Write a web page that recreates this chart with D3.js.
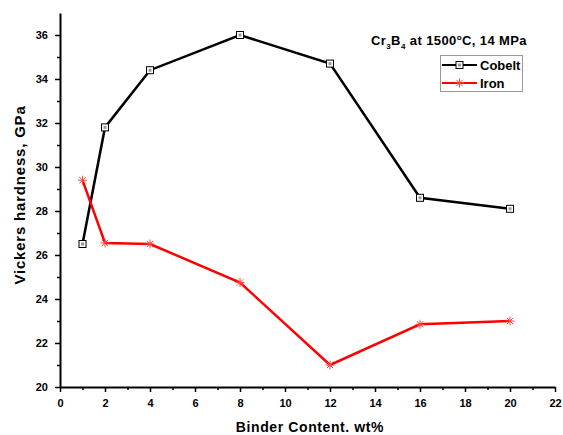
<!DOCTYPE html>
<html>
<head>
<meta charset="utf-8">
<script src="https://cdn.jsdelivr.net/npm/d3@7"></script>
<style>
  body { margin: 0; background: #fff; }
  svg text { font-family: "Liberation Sans", Arial, sans-serif; font-weight: bold; fill: #000; }
</style>
</head>
<body>
<div id="chart"></div>
<script>
const binder = [1, 2, 4, 8, 12, 16, 20];
const cobelt = [26.5, 31.8, 34.4, 36.0, 34.7, 28.6, 28.1];
const iron = [29.4, 26.55, 26.5, 24.75, 21.0, 22.85, 23.0];
const xTicks = d3.range(0, 23, 2);
const yTicks = d3.range(20, 37, 2);

const width = 563;
const height = 435;
const margin = {top: 13, right: 8, bottom: 48, left: 60};

let svg = d3.select('#chart').append('svg')
  .attr('width', width)
  .attr('height', height)

let scaleX = d3.scaleLinear()
  .domain([0, 22])
  .range([margin.left, 555])

let scaleY = d3.scaleLinear()
  .domain([20, 37])
  .range([387, margin.top])

// minor ticks
let xAxisMinor = d3.axisBottom(scaleX).tickValues(d3.range(1, 22, 2)).tickSize(3).tickFormat('');
let yAxisMinor = d3.axisLeft(scaleY).tickValues(d3.range(21, 37, 2)).tickSize(3).tickFormat('');

svg.append('g')
  .attr('transform', `translate(0, ${scaleY(20)})`)
  .call(xAxisMinor)
  .call(g => g.select('.domain').remove())
  .selectAll('line').attr('stroke-width', 1.5)

svg.append('g')
  .attr('transform', `translate(${scaleX(0)}, 0)`)
  .call(yAxisMinor)
  .call(g => g.select('.domain').remove())
  .selectAll('line').attr('stroke-width', 1.5)

let xAxis = d3.axisBottom(scaleX).tickValues(xTicks).tickSize(5).tickSizeOuter(0).tickPadding(7);
let yAxis = d3.axisLeft(scaleY).tickValues(yTicks).tickSize(5).tickSizeOuter(0).tickPadding(7);

let gx = svg.append('g')
  .attr('transform', `translate(0, ${scaleY(20)})`)
  .call(xAxis)
gx.select('.domain').attr('stroke-width', 2)
gx.selectAll('line').attr('stroke-width', 1.5)
gx.selectAll('text').style('font-size', '11px').style('font-family', '"Liberation Sans", Arial, sans-serif').style('font-weight', 'bold')

let gy = svg.append('g')
  .attr('transform', `translate(${scaleX(0)}, 0)`)
  .call(yAxis)
gy.select('.domain').attr('stroke-width', 2)
gy.selectAll('line').attr('stroke-width', 1.5)
gy.selectAll('text').style('font-size', '11px').style('font-family', '"Liberation Sans", Arial, sans-serif').style('font-weight', 'bold')

// axis titles
svg.append('text')
  .attr('x', 310)
  .attr('y', 432)
  .attr('text-anchor', 'middle')
  .style('font-size', '14px')
  .style('letter-spacing', '0.6px')
  .text('Binder Content. wt%')

svg.append('text')
  .attr('transform', `translate(25, 195) rotate(-90)`)
  .attr('text-anchor', 'middle')
  .style('font-size', '15px')
  .style('letter-spacing', '0.8px')
  .text('Vickers hardness, GPa')

// series
let line = d3.line()
  .x(d => scaleX(d[0]))
  .y(d => scaleY(d[1]))

let cobeltPts = d3.zip(binder, cobelt);
let ironPts = d3.zip(binder, iron);

svg.append('path')
  .datum(cobeltPts)
  .attr('fill', 'none')
  .attr('stroke', '#000')
  .attr('stroke-width', 2.5)
  .attr('d', line)

svg.append('path')
  .datum(ironPts)
  .attr('fill', 'none')
  .attr('stroke', '#ff0000')
  .attr('stroke-width', 2.5)
  .attr('d', line)

let squareMarker = (g, x, y) => {
  g.append('rect')
    .attr('x', x - 3.5).attr('y', y - 3.5)
    .attr('width', 7).attr('height', 7)
    .attr('fill', '#fff').attr('stroke', '#000').attr('stroke-width', 1)
  g.append('rect')
    .attr('x', x - 1.5).attr('y', y - 1.5)
    .attr('width', 3).attr('height', 3)
    .attr('fill', '#999')
}

let starMarker = (g, x, y) => {
  const r = 4.5;
  let path = '';
  [0, 45, 90, 135].forEach(a => {
    let rad = a * Math.PI / 180;
    let dx = r * Math.cos(rad), dy = r * Math.sin(rad);
    path += `M${x - dx},${y - dy}L${x + dx},${y + dy}`;
  })
  g.append('path')
    .attr('d', path)
    .attr('stroke', '#ff4444')
    .attr('stroke-width', 1)
    .attr('fill', 'none')
}

let markers = svg.append('g');
cobeltPts.forEach(d => squareMarker(markers, scaleX(d[0]), scaleY(d[1])));
ironPts.forEach(d => starMarker(markers, scaleX(d[0]), scaleY(d[1])));

// title
let title = svg.append('text')
  .attr('x', 371)
  .attr('y', 45)
  .style('font-size', '13px')
  .style('letter-spacing', '0.4px')
title.append('tspan').text('Cr')
title.append('tspan').attr('dy', 4).style('font-size', '8px').text('3')
title.append('tspan').attr('dy', -4).text('B')
title.append('tspan').attr('dy', 4).style('font-size', '8px').text('4')
title.append('tspan').attr('dy', -4).text(' at 1500')
title.append('tspan').attr('dy', -5).style('font-size', '8px').text('o')
title.append('tspan').attr('dy', 5).text('C, 14 MPa')

// legend
let legend = svg.append('g');
legend.append('rect')
  .attr('x', 440.5).attr('y', 55.5)
  .attr('width', 82).attr('height', 36)
  .attr('fill', '#fff').attr('stroke', '#999').attr('stroke-width', 1)

const legendItems = [
  {name: 'Cobelt', color: '#000', y: 65, marker: squareMarker},
  {name: 'Iron', color: '#ff0000', y: 83, marker: starMarker}
];
legendItems.forEach(item => {
  legend.append('line')
    .attr('x1', 442).attr('x2', 477)
    .attr('y1', item.y).attr('y2', item.y)
    .attr('stroke', item.color).attr('stroke-width', 2)
  item.marker(legend, 459.5, item.y)
  legend.append('text')
    .attr('x', 480).attr('y', item.y + 5)
    .style('font-size', '13px')
    .text(item.name)
})
</script>
</body>
</html>
